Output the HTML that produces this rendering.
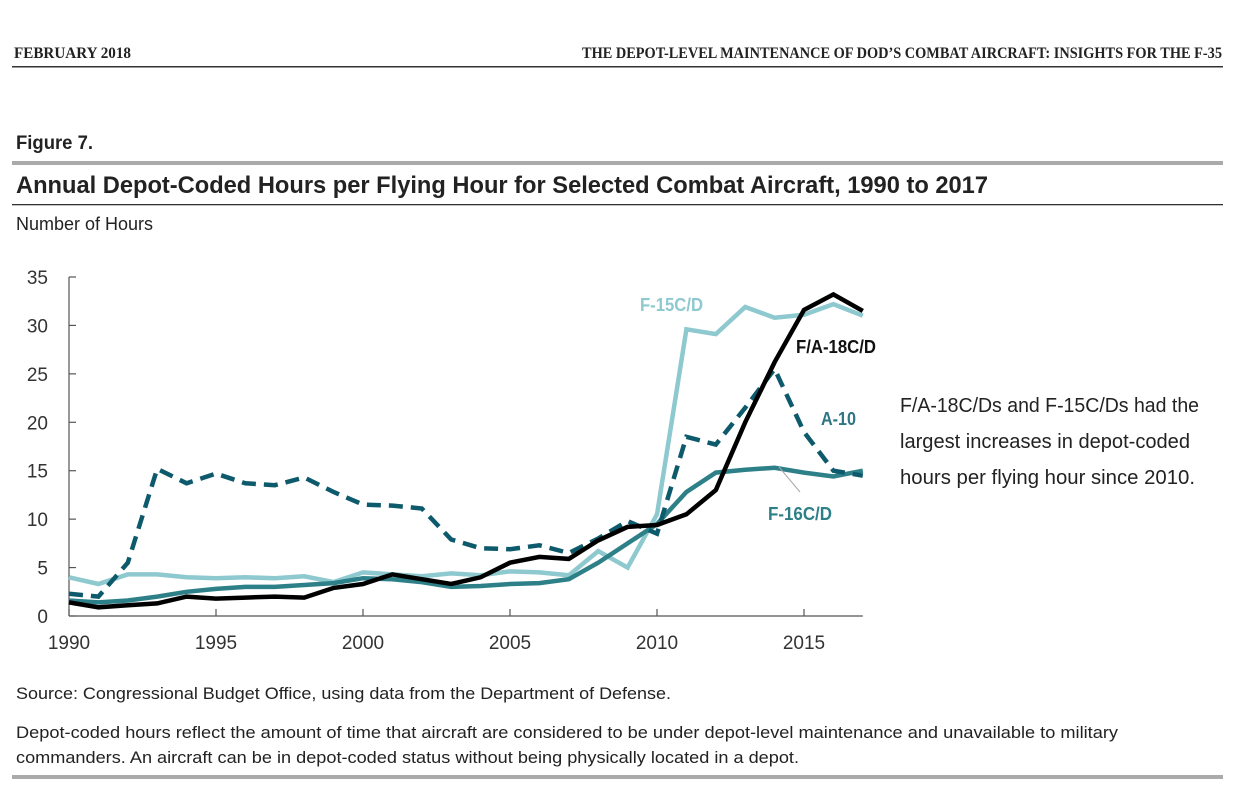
<!DOCTYPE html>
<html><head><meta charset="utf-8"><style>
html,body{margin:0;padding:0;background:#fff;}
svg{display:block;font-family:"Liberation Sans",sans-serif;}
</style></head><body>
<svg id="chart" width="1235" height="800" viewBox="0 0 1235 800">
<text x="14" y="58" font-family="Liberation Serif" font-weight="bold" font-size="16" fill="#222" textLength="117" lengthAdjust="spacingAndGlyphs">FEBRUARY 2018</text>
<text x="1222" y="58" text-anchor="end" font-family="Liberation Serif" font-weight="bold" font-size="16" fill="#222" textLength="640" lengthAdjust="spacingAndGlyphs">THE DEPOT-LEVEL MAINTENANCE OF DOD’S COMBAT AIRCRAFT: INSIGHTS FOR THE F-35</text>
<rect x="12" y="66" width="1211" height="1.5" fill="#333"/>
<text x="16" y="149" font-size="19" font-weight="bold" fill="#222" textLength="77" lengthAdjust="spacingAndGlyphs">Figure 7.</text>
<rect x="12" y="161" width="1211" height="4" fill="#aaa"/>
<text x="16" y="193" font-size="24" font-weight="bold" fill="#222" textLength="972" lengthAdjust="spacingAndGlyphs">Annual Depot-Coded Hours per Flying Hour for Selected Combat Aircraft, 1990 to 2017</text>
<rect x="12" y="204" width="1211" height="1.3" fill="#333"/>
<text x="16" y="230" font-size="18" fill="#222" textLength="137" lengthAdjust="spacingAndGlyphs">Number of Hours</text>
<g id="axes"></g>
<g id="series"></g>
<text x="640" y="311" font-size="18" font-weight="bold" fill="#8ec9cf" textLength="63" lengthAdjust="spacingAndGlyphs">F-15C/D</text>
<text x="796" y="353" font-size="18" font-weight="bold" fill="#111" textLength="80" lengthAdjust="spacingAndGlyphs">F/A-18C/D</text>
<text x="821" y="425" font-size="18" font-weight="bold" fill="#2e7585" textLength="35" lengthAdjust="spacingAndGlyphs">A-10</text>
<text x="768" y="520" font-size="18" font-weight="bold" fill="#2e8088" textLength="64" lengthAdjust="spacingAndGlyphs">F-16C/D</text>
<line x1="779" y1="467" x2="800" y2="492" stroke="#aaa" stroke-width="1"/>
<g font-size="20" fill="#222">
<text x="900" y="412" textLength="299" lengthAdjust="spacingAndGlyphs">F/A-18C/Ds and F-15C/Ds had the</text>
<text x="900" y="448" textLength="290" lengthAdjust="spacingAndGlyphs">largest increases in depot-coded</text>
<text x="900" y="484" textLength="295" lengthAdjust="spacingAndGlyphs">hours per flying hour since 2010.</text>
</g>
<text x="16" y="699" font-size="17" fill="#222" textLength="655" lengthAdjust="spacingAndGlyphs">Source: Congressional Budget Office, using data from the Department of Defense.</text>
<text x="16" y="738" font-size="17" fill="#222" textLength="1102" lengthAdjust="spacingAndGlyphs">Depot-coded hours reflect the amount of time that aircraft are considered to be under depot-level maintenance and unavailable to military</text>
<text x="16" y="763" font-size="17" fill="#222" textLength="783" lengthAdjust="spacingAndGlyphs">commanders. An aircraft can be in depot-coded status without being physically located in a depot.</text>
<rect x="12" y="775" width="1211" height="4" fill="#aaa"/>
</svg>
<script>
const years=[1990,1991,1992,1993,1994,1995,1996,1997,1998,1999,2000,2001,2002,2003,2004,2005,2006,2007,2008,2009,2010,2011,2012,2013,2014,2015,2016,2017];
const f15=[4.0,3.3,4.3,4.3,4.0,3.9,4.0,3.9,4.1,3.5,4.5,4.3,4.1,4.4,4.2,4.6,4.5,4.2,6.7,5.0,10.5,29.6,29.1,31.9,30.8,31.1,32.2,31.0];
const f16=[1.6,1.4,1.6,2.0,2.5,2.8,3.0,3.0,3.2,3.4,3.9,3.8,3.5,3.0,3.1,3.3,3.4,3.8,5.5,7.5,9.5,12.8,14.8,15.1,15.3,14.8,14.4,15.0];
const a10=[2.3,2.0,5.5,15.2,13.7,14.7,13.7,13.5,14.3,12.8,11.5,11.4,11.1,7.9,7.0,6.9,7.3,6.5,8.0,9.8,8.5,18.5,17.7,21.5,25.5,19.0,15.0,14.5];
const fa18=[1.4,0.9,1.1,1.3,2.0,1.8,1.9,2.0,1.9,2.9,3.3,4.3,3.8,3.3,4.0,5.5,6.1,5.9,7.8,9.2,9.4,10.5,13.0,20.0,26.2,31.6,33.2,31.5];
const yTicks=[0,5,10,15,20,25,30,35];
const xTicks=[1990,1995,2000,2005,2010,2015];
const NS="http://www.w3.org/2000/svg";
const X=y=>69+(y-1990)*29.4;
const Y=v=>616-v*9.686;
const axes=document.getElementById('axes'),ser=document.getElementById('series');
function mk(tag,attrs,parent,txt){const e=document.createElementNS(NS,tag);for(const k in attrs)e.setAttribute(k,attrs[k]);if(txt!==undefined)e.textContent=txt;parent.appendChild(e);return e;}
let e=mk('line',{x1:69,y1:Y(35),x2:69,y2:616,stroke:'#555','stroke-width':1.2},axes);


e=mk('line',{x1:69,y1:616,x2:X(2017),y2:616,stroke:'#555','stroke-width':1.2},axes);


yTicks.forEach(t=>{
 mk('line',{x1:69,y1:Y(t),x2:76,y2:Y(t),stroke:'#555','stroke-width':1.2},axes);
 e=mk('text',{x:48,y:Y(t)+7,'font-size':19,'text-anchor':'end',fill:'#333'},axes,String(t));
 
 
});
xTicks.forEach(t=>{
 mk('line',{x1:X(t),y1:609,x2:X(t),y2:616,stroke:'#555','stroke-width':1.2},axes);
 e=mk('text',{x:X(t),y:649,'font-size':19,'text-anchor':'middle',fill:'#333'},axes,String(t));
 
 
});
function line(vals,color,w,dash,name){
 const d=vals.map((v,i)=>(i?'L':'M')+X(years[i]).toFixed(1)+','+Y(v).toFixed(1)).join('');
 const p=mk('path',{d:d,fill:'none',stroke:color,'stroke-width':w,'stroke-linejoin':'miter'},ser);
 if(dash)p.setAttribute('stroke-dasharray',dash);
 
 
}
line(f15,'#8ec9cf',4.5,null,'f15-line');
line(f16,'#2e8088',4.5,null,'f16-line');
line(a10,'#0d5a6c',4.5,'14,8','a10-line');
line(fa18,'#000',4.5,null,'fa18-line');
</script>
</body></html>
